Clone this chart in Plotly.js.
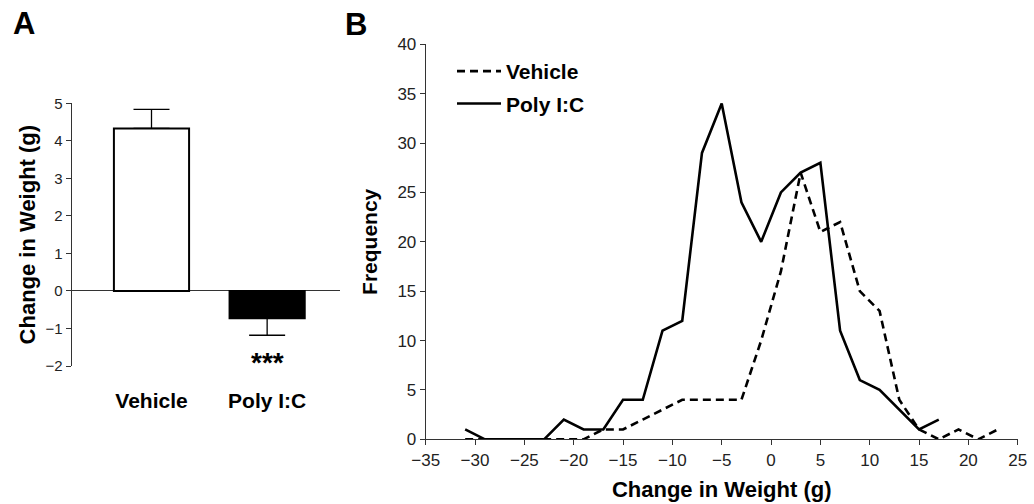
<!DOCTYPE html>
<html>
<head>
<meta charset="utf-8">
<script src="https://cdn.plot.ly/plotly-3.0.1.min.js"></script>
<style>
  html, body { margin: 0; padding: 0; background: #fff; }
  #chart { width: 1034px; height: 504px; }
</style>
</head>
<body>
<div id="chart"></div>
<script>
// ---------- Panel A data ----------
const barGroups = ["Vehicle", "Poly I:C"];
const barMeans = [4.33, -0.73];
const barSemUp = [0.51, 0];
const barSemDown = [0, 0.45];

// ---------- Panel B data ----------
const vehicleX = [-31, -29, -27, -25, -23, -21, -19, -17, -15, -13, -11, -9, -7, -5, -3, -1, 1, 3, 5, 7, 9, 11, 13, 15, 17, 19, 21, 23];
const vehicleY = [0, 0, 0, 0, 0, 0, 0, 1, 1, 2, 3, 4, 4, 4, 4, 10, 17, 27, 21, 22, 15, 13, 4, 1, 0, 1, 0, 1];
const polyX = [-31, -29, -27, -25, -23, -21, -19, -17, -15, -13, -11, -9, -7, -5, -3, -1, 1, 3, 5, 7, 9, 11, 13, 15, 17];
const polyY = [1, 0, 0, 0, 0, 2, 1, 1, 4, 4, 11, 12, 29, 34, 24, 20, 25, 27, 28, 11, 6, 5, 3, 1, 2];

const W = 1034, H = 504;
const px = v => v / W;
const py = v => 1 - v / H;

const FONT = "Liberation Sans, Arial, sans-serif";

const traces = [
  {
    type: "bar",
    x: barGroups,
    y: barMeans,
    width: 0.65,
    marker: { color: ["#ffffff", "#000000"], line: { color: "#000000", width: 2 } },
    error_y: {
      type: "data", symmetric: false,
      array: barSemUp, arrayminus: barSemDown,
      color: "#000000", thickness: 1.3, width: 18
    },
    xaxis: "x", yaxis: "y",
    showlegend: false,
    hoverinfo: "skip"
  },
  {
    type: "scatter", mode: "lines",
    name: "Vehicle",
    legendgroup: "veh",
    x: vehicleX, y: vehicleY,
    line: { color: "#000000", width: 2.6, dash: "8px,5px" },
    xaxis: "x2", yaxis: "y2"
  },
  {
    type: "scatter", mode: "lines",
    name: "Poly I:C",
    legendgroup: "poly",
    x: polyX, y: polyY,
    line: { color: "#000000", width: 2.6 },
    xaxis: "x2", yaxis: "y2"
  }
];

const layout = {
  width: W, height: H,
  margin: { l: 0, r: 0, t: 0, b: 0 },
  paper_bgcolor: "#ffffff",
  plot_bgcolor: "rgba(0,0,0,0)",
  font: { family: FONT, color: "#000" },
  showlegend: true,
  legend: {
    x: px(452), y: py(51), xanchor: "left", yanchor: "top",
    bgcolor: "rgba(0,0,0,0)",
    font: { family: FONT, size: 21, color: "#000", weight: "bold" },
    itemwidth: 44,
    tracegroupgap: 2
  },
  xaxis: {
    domain: [px(71.7), px(340)],
    anchor: "y",
    type: "category",
    range: [-0.69, 1.63],
    showline: false, showgrid: false, zeroline: false,
    ticks: "",
    ticklabelstandoff: 20,
    tickfont: { family: FONT, size: 21, color: "#000", weight: "bold" },
    fixedrange: true
  },
  yaxis: {
    domain: [py(366), py(103.3)],
    anchor: "x",
    range: [-2, 5],
    dtick: 1,
    showline: true, linecolor: "#333", linewidth: 1,
    ticks: "outside", ticklen: 5, tickwidth: 1, tickcolor: "#333",
    showgrid: false,
    zeroline: true, zerolinecolor: "#333", zerolinewidth: 1,
    tickfont: { family: FONT, size: 15, color: "#222" },
    title: { text: "Change in Weight (g)", font: { family: FONT, size: 22, color: "#000", weight: "bold" }, standoff: 3 }
  },
  xaxis2: {
    domain: [px(425.7), px(1017.7)],
    anchor: "y2",
    range: [-35, 25],
    dtick: 5,
    showline: true, linecolor: "#333", linewidth: 1,
    ticks: "outside", ticklen: 5, tickwidth: 1, tickcolor: "#333",
    showgrid: false, zeroline: false,
    tickfont: { family: FONT, size: 17, color: "#222" },
    title: { text: "Change in Weight (g)", font: { family: FONT, size: 22, color: "#000", weight: "bold" }, standoff: 12 }
  },
  yaxis2: {
    domain: [py(439.3), py(44.3)],
    anchor: "x2",
    range: [0, 40],
    dtick: 5,
    showline: true, linecolor: "#333", linewidth: 1,
    ticks: "outside", ticklen: 5, tickwidth: 1, tickcolor: "#333",
    showgrid: false, zeroline: false,
    tickfont: { family: FONT, size: 17, color: "#222" },
    title: { text: "Frequency", font: { family: FONT, size: 21, color: "#000", weight: "bold" }, standoff: 14 }
  },
  annotations: [
    { text: "A", xref: "paper", yref: "paper", x: px(11), y: py(4), xanchor: "left", yanchor: "top",
      showarrow: false, font: { family: FONT, size: 31, color: "#000", weight: "bold" } },
    { text: "B", xref: "paper", yref: "paper", x: px(343), y: py(5), xanchor: "left", yanchor: "top",
      showarrow: false, font: { family: FONT, size: 31, color: "#000", weight: "bold" } },
    { text: "***", xref: "x", yref: "y", x: 1, y: -1.9, xanchor: "center", yanchor: "middle",
      showarrow: false, font: { family: FONT, size: 28, color: "#000", weight: "bold" } }
  ]
};

Plotly.newPlot("chart", traces, layout, { displayModeBar: false, staticPlot: true });
</script>
</body>
</html>
